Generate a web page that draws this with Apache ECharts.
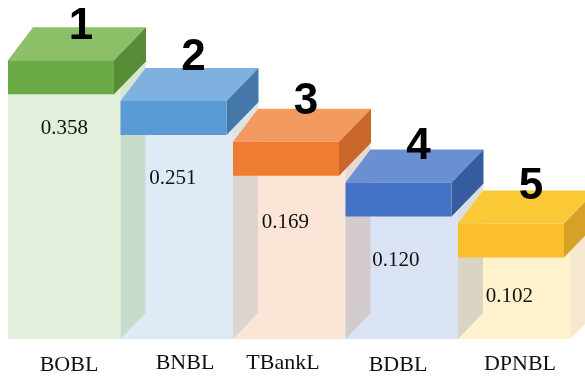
<!DOCTYPE html>
<html><head><meta charset="utf-8">
<script src="https://cdn.jsdelivr.net/npm/echarts@6/dist/echarts.min.js"></script>
<style>html,body{margin:0;padding:0;background:#fff}#c{width:585px;height:380px}</style>
</head><body><div id="c"></div>
<script>
// ---- data ----
const categories = ['BOBL', 'BNBL', 'TBankL', 'BDBL', 'DPNBL'];
const scores = [0.358, 0.251, 0.169, 0.120, 0.102];
const ranks = ['1', '2', '3', '4', '5'];
const podiumLevels = [6, 5, 4, 3, 2]; // body height in podium steps

// ---- styles / layout ----
const palette = [
  {front:'#6aab46', top:'#8cc068', side:'#568c35', body:'#e2efda', bodySide:'rgba(176,206,160,0.5)'},
  {front:'#5b9bd5', top:'#7fb1e0', side:'#4478aa', body:'#deebf7', bodySide:'rgba(185,190,200,0.45)'},
  {front:'#ee7d31', top:'#f29a60', side:'#c9672a', body:'#fbe5d6', bodySide:'rgba(200,170,160,0.45)'},
  {front:'#4472c4', top:'#6a8fd2', side:'#345c9f', body:'#dae3f3', bodySide:'rgba(160,170,180,0.4)'},
  {front:'#fbbe2d', top:'#fbc935', side:'#d7a128', body:'#fff2cc', bodySide:'rgba(235,210,160,0.5)'}
];
const FRONT_OFF = 3, CAP_W = 106, CAP_H = 34, DX_L = 25, DX_R = 32, DY = 33, BODY_DX = 25, BODY_DY = 26;
const valueDy = [34, 43, 47, 44, 39];
const valueDx = [0, -4, -4, -6, -5];
const rankDy = [-33, -43, -40, -36, -37];
const rankDx = 73;
const catShiftX = [7.75, 11.25, -3.25, -0.75, 8.75];
const catPadTop = [30, 26, 26, 31, 28];

const seriesData = podiumLevels.map((v, i) => [i, v]);

function geom(params, api) {
  const i = api.value(0);
  const c = api.coord([i, api.value(1)]);
  const base = api.coord([i, 0])[1];
  const bw = api.size([1, 0])[0];
  const x0 = c[0] - bw / 2 + FRONT_OFF;
  return {i, x0, bw, base, capBottom: c[1], capTop: c[1] - CAP_H};
}

function renderBodyFront(params, api) {
  const g = geom(params, api);
  return {type:'polygon', shape:{points:[[g.x0, g.base],[g.x0 + g.bw, g.base],[g.x0 + g.bw, g.capBottom - 10],[g.x0, g.capBottom - 10]]},
    style:{fill: palette[g.i].body}};
}
function renderBodySide(params, api) {
  const g = geom(params, api);
  const xr = g.x0 + g.bw;
  return {type:'polygon', shape:{points:[[xr, g.base],[xr, g.capBottom - 10],[xr + BODY_DX, g.capBottom - 40],[xr + BODY_DX, g.base - BODY_DY]]},
    style:{fill: palette[g.i].bodySide}};
}
function renderCap(params, api) {
  const g = geom(params, api);
  const p = palette[g.i];
  const x0 = g.x0, x1 = g.x0 + CAP_W, t = g.capTop, b = g.capBottom;
  return {type:'group', children:[
    {type:'polygon', shape:{points:[[x0, t],[x1, t],[x1 + DX_R, t - DY],[x0 + DX_L, t - DY]]}, style:{fill:p.top}},
    {type:'polygon', shape:{points:[[x1, t],[x1 + DX_R, t - DY],[x1 + DX_R, b - DY],[x1, b]]}, style:{fill:p.side}},
    {type:'rect', shape:{x:x0, y:t, width:CAP_W, height:CAP_H}, style:{fill:p.front}},
    {type:'text', style:{text: ranks[g.i], x: x0 + rankDx, y: t + rankDy[g.i], font:'bold 44px "Liberation Sans", Arial, sans-serif', fill:'#000', align:'center', verticalAlign:'middle'}},
    {type:'text', style:{text: scores[g.i].toFixed(3), x: x0 + g.bw / 2 + valueDx[g.i], y: b + valueDy[g.i], font:'21px "Liberation Serif", "Times New Roman", serif', fill:'#111', align:'center', verticalAlign:'middle'}}
  ]};
}

const rich = {};
categories.forEach((c, i) => {
  const s = catShiftX[i];
  rich['c' + i] = {fontFamily:'"Liberation Serif", "Times New Roman", serif', fontSize:22, color:'#111', lineHeight:22,
    padding:[catPadTop[i], s < 0 ? -2 * s : 0, 0, s > 0 ? 2 * s : 0]};
});

const chart = echarts.init(document.getElementById('c'), null, {renderer:'canvas'});
chart.setOption({
  animation:false,
  backgroundColor:'#ffffff',
  grid:{left:5, right:17.5, top:12.6, bottom:41},
  xAxis:{type:'category', data:categories, boundaryGap:true,
    axisLine:{show:false}, axisTick:{show:false}, splitLine:{show:false},
    axisLabel:{margin:0, verticalAlign:'top', interval:0,
      formatter:(v, i) => '{c' + i + '|' + v + '}', rich:rich}},
  yAxis:{type:'value', min:0, max:8, show:false, splitLine:{show:false}},
  series:[
    {type:'custom', z:2, data:seriesData, encode:{x:0, y:1}, renderItem:renderBodyFront, clip:false},
    {type:'custom', z:3, data:seriesData, encode:{x:0, y:1}, renderItem:renderBodySide, clip:false},
    {type:'custom', z:4, data:seriesData, encode:{x:0, y:1}, renderItem:renderCap, clip:false}
  ]
});
</script>
</body></html>
